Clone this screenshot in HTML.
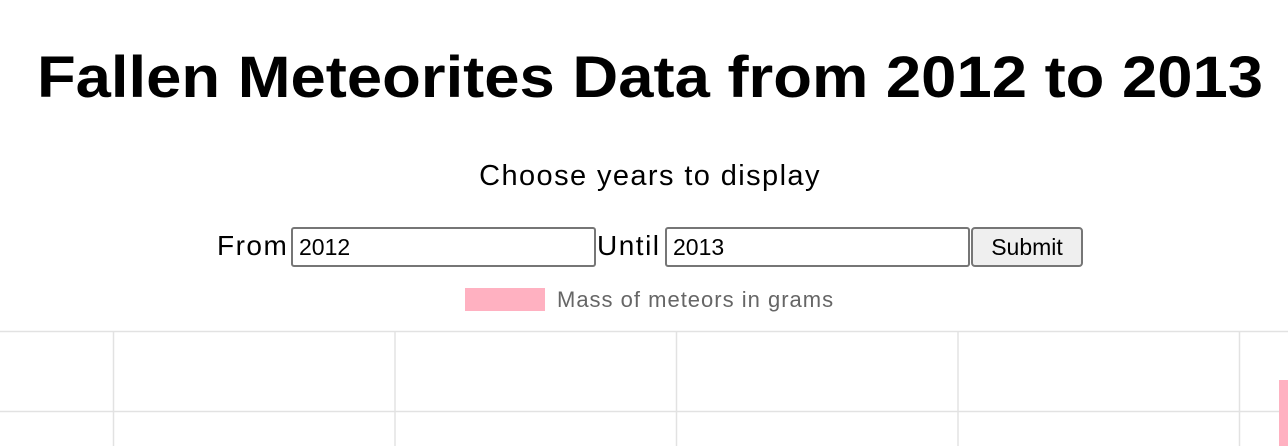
<!DOCTYPE html>
<html><head><meta charset="utf-8"><style>
html,body{margin:0;padding:0;background:#fff;width:1288px;height:446px;overflow:hidden;font-family:"Liberation Sans",Arial,sans-serif;}
.abs{position:absolute;}
#title{left:6px;width:1288px;top:38px;text-align:center;font-weight:bold;font-size:58px;line-height:80px;color:#000;white-space:nowrap;transform:scaleX(1.093);transform-origin:644px 0;}
#sub{left:0;width:1300px;top:158px;text-align:center;font-size:29px;line-height:36px;color:#000;letter-spacing:1.4px;}
.lbl{font-size:28px;line-height:36px;top:228px;color:#000;letter-spacing:1.5px;}
.inp{top:227px;width:295px;border:2px solid #767676;border-radius:3px;font-size:23px;line-height:36px;padding-left:6px;box-sizing:content-box;height:36px;}
#btn{left:971px;top:227px;width:108px;height:36px;border:2px solid #767676;border-radius:4px;background:#efefef;font-size:23px;line-height:36px;text-align:center;}
#legbox{left:465px;top:288px;width:80px;height:23px;background:#ffb1c1;}
#legtxt{left:557px;top:286px;font-size:22px;line-height:28px;color:#666;letter-spacing:1px;}
</style></head><body>
<div id="title" class="abs">Fallen Meteorites Data from 2012 to 2013</div>
<div id="sub" class="abs">Choose years to display</div>
<div class="abs lbl" style="left:217px">From</div>
<div class="abs inp" style="left:291px">2012</div>
<div class="abs lbl" style="left:597px">Until</div>
<div class="abs inp" style="left:665px">2013</div>
<div id="btn" class="abs">Submit</div>
<div id="legbox" class="abs"></div>
<div id="legtxt" class="abs">Mass of meteors in grams</div>
<svg id="chart" class="abs" style="left:0;top:0" width="1288" height="446"></svg>
<script>
const categories = ["A","B","C","D","E"];
const values = [0,0,0,0,43875];
const yTicks = [50000,40000];
const NS="http://www.w3.org/2000/svg";
const svg=document.getElementById('chart');
function yScale(v){return 411-(v-40000)*80/10000;}
function xLine(i){return 113+281.5*i;}
function xBar(i){return xLine(i)+40;}
yTicks.forEach(t=>{
  const l=document.createElementNS(NS,'line');
  
  
  l.setAttribute('x1',0);l.setAttribute('x2',1288);
  l.setAttribute('y1',yScale(t)+0.5);l.setAttribute('y2',yScale(t)+0.5);
  l.setAttribute('stroke','#e2e2e2');l.setAttribute('stroke-width',1.5);
  svg.appendChild(l);
});
categories.forEach((c,i)=>{
  const l=document.createElementNS(NS,'line');
  
  
  l.setAttribute('x1',xLine(i)+0.5);l.setAttribute('x2',xLine(i)+0.5);
  l.setAttribute('y1',331);l.setAttribute('y2',446);
  l.setAttribute('stroke','#e2e2e2');l.setAttribute('stroke-width',1.5);
  svg.appendChild(l);
});
categories.forEach((c,i)=>{
  if(!values[i])return;
  const r=document.createElementNS(NS,'rect');
  
  
  const y=yScale(values[i]);
  r.setAttribute('x',xBar(i));r.setAttribute('y',y);
  r.setAttribute('width',20);r.setAttribute('height',446-y);
  r.setAttribute('fill','#ffb1c1');
  svg.appendChild(r);
});
</script>
</body></html>
